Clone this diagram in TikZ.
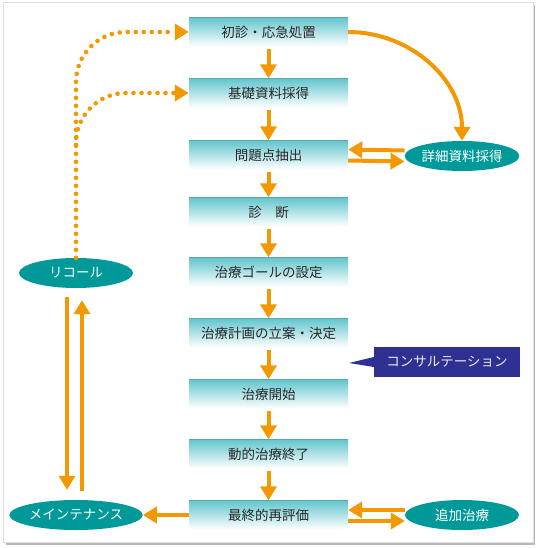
\documentclass[tikz,border=0pt]{standalone}
\usepackage{fontspec}
\setmainfont{Noto Sans CJK JP}
\usepackage{tikz}
\usetikzlibrary{arrows.meta,shapes.geometric}
\definecolor{flow}{RGB}{243,152,0}
\definecolor{boxtop}{RGB}{100,197,205}
\definecolor{ovalfill}{RGB}{0,153,153}
\definecolor{consultfill}{RGB}{46,49,146}
\definecolor{boxtext}{RGB}{40,40,40}
\tikzset{
  stepbox/.style={rectangle,minimum width=159pt,minimum height=29pt,inner sep=0pt,
    top color=boxtop,bottom color=white,text=boxtext,font=\fontsize{13.5}{16}\selectfont,
    path picture={\draw[boxtop!85!black,line width=.6pt] (path picture bounding box.north west) -- (path picture bounding box.north east);}},
  oval/.style={ellipse,fill=ovalfill,text=white,minimum width=114pt,minimum height=30pt,inner sep=0pt,
    font=\fontsize{13.5}{16}\selectfont},
  flowarrow/.style={draw=flow,line width=4pt,-{Triangle[length=14pt,width=16pt]}},
  dotarrow/.style={draw=flow,line width=4.6pt,line cap=round,dash pattern=on 0pt off 8pt,
    rounded corners=50pt,-{Triangle[length=14pt,width=16pt]}}
}
\begin{document}
\begin{tikzpicture}[x=1pt,y=-1pt]
\useasboundingbox (0,0) rectangle (538,548);
\fill[black!28] (6,5) rectangle (535,545);
\draw[black!12,fill=white] (3,2) rectangle (533,542);
\node[stepbox] (shoshin) at (268.5,32) {初診・応急処置};
\node[stepbox] (kiso) at (268.5,93) {基礎資料採得};
\node[stepbox] (mondai) at (268.5,155) {問題点抽出};
\node[stepbox] (shindan) at (268.5,212) {診　断};
\node[stepbox] (goal) at (268.5,272) {治療ゴールの設定};
\node[stepbox] (keikaku) at (268.5,333) {治療計画の立案・決定};
\node[stepbox] (kaishi) at (268.5,394) {治療開始};
\node[stepbox] (dotek) at (268.5,454) {動的治療終了};
\node[stepbox] (saishu) at (268.5,515) {最終的再評価};
\node[oval] (shosai) at (462,156) {詳細資料採得};
\node[oval] (recall) at (76,273) {リコール};
\node[oval] (maint) at (76,515) {メインテナンス};
\node[oval] (tsuika) at (462,515) {追加治療};
\node[fill=consultfill,text=black!8,minimum width=146pt,minimum height=30pt,inner sep=0pt,
  font=\fontsize{13.5}{16}\selectfont] (consult) at (447,362) {コンサルテーション};
\coordinate (ctip) at (349,363);
\fill[consultfill] ([yshift=5pt]consult.west) -- (ctip) -- ([yshift=-5pt]consult.west) -- cycle;
\foreach \a/\b in {shoshin/kiso,kiso/mondai,mondai/shindan,shindan/goal,goal/keikaku,keikaku/kaishi,kaishi/dotek,dotek/saishu}
  \draw[flowarrow] ([yshift=-2pt]\a.south) -- (\b.north);
\draw[flowarrow] (shoshin.east) to[out=0,in=90] (shosai.north);
\draw[flowarrow] ([yshift=5.5pt]shosai.west) -- ([yshift=5.5pt]mondai.east);
\draw[flowarrow] ([yshift=-5.5pt]mondai.east) -- ([yshift=-5.5pt]shosai.west);
\draw[flowarrow] ([yshift=5pt]tsuika.west) -- ([yshift=5pt]saishu.east);
\draw[flowarrow] ([yshift=-6pt]saishu.east) -- ([yshift=-6pt]tsuika.west);
\draw[flowarrow] (saishu.west) -- (maint.east);
\draw[flowarrow] ([xshift=-9pt,yshift=-9pt]recall.south) -- ([xshift=-9pt,yshift=10pt]maint.north);
\draw[flowarrow] ([xshift=6pt,yshift=9pt]maint.north) -- ([xshift=6pt,yshift=-12pt]recall.south);
\coordinate (split) at (76,145);
\draw[dotarrow] (recall.north) |- (shoshin.west);
\draw[dotarrow] (split) |- (kiso.west);
\end{tikzpicture}
\end{document}
